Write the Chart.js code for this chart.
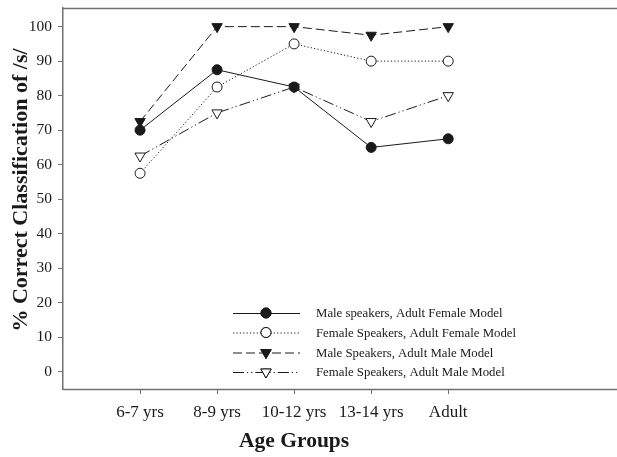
<!DOCTYPE html>
<html>
<head>
<meta charset="utf-8">
<script src="https://cdn.jsdelivr.net/npm/chart.js@4.4.1/dist/chart.umd.min.js"></script>
<style>
  html, body { margin: 0; padding: 0; background: #fff; }
  #wrap { width: 617px; height: 457px; position: relative; }
</style>
</head>
<body>
<div id="wrap"><canvas id="c" width="617" height="457"></canvas></div>
<script>
// Age groups along the x axis
const ageGroups = ['6-7 yrs', '8-9 yrs', '10-12 yrs', '13-14 yrs', 'Adult'];

// % correct classification of /s/ per group
const maleSpkFemaleModel   = [70, 87.5, 82.5, 65, 67.5];
const femaleSpkFemaleModel = [57.5, 82.5, 95, 90, 90];
const maleSpkMaleModel     = [72.5, 100, 100, 97.5, 100];
const femaleSpkMaleModel   = [62.5, 75, 82.5, 72.5, 80];

const seriesNames = [
  'Male speakers, Adult Female Model',
  'Female Speakers, Adult Female Model',
  'Male Speakers, Adult Male Model',
  'Female Speakers, Adult Male Model'
];

const yTicks = [0, 10, 20, 30, 40, 50, 60, 70, 80, 90, 100];

const SERIF = '"Liberation Serif", "Times New Roman", serif';
const INK = '#1a1a1a';
const AXIS = '#707070';

function pts(values) {
  return values.map((v, i) => ({ x: i + 1, y: v }));
}

const styles = [
  { dash: [],               point: 'circle',   rot: 0,   fill: INK,    r: 5 },
  { dash: [1.2, 2.2],       point: 'circle',   rot: 0,   fill: '#fff', r: 5 },
  { dash: [9, 4],           point: 'triangle', rot: 180, fill: INK,    r: 6 },
  { dash: [11, 3, 1.2, 3, 1.2, 3], point: 'triangle', rot: 180, fill: '#fff', r: 6 }
];

const seriesValues = [maleSpkFemaleModel, femaleSpkFemaleModel, maleSpkMaleModel, femaleSpkMaleModel];

const datasets = seriesValues.map((vals, i) => ({
  label: seriesNames[i],
  data: pts(vals),
  borderColor: INK,
  borderWidth: 1,
  borderDash: styles[i].dash,
  pointStyle: styles[i].point,
  pointRotation: styles[i].rot,
  pointRadius: styles[i].r,
  pointBorderWidth: 1,
  pointBorderColor: INK,
  pointBackgroundColor: styles[i].fill,
  tension: 0,
  fill: false
}));

// Frame lines, axis titles and the key in the lower right
const decor = {
  id: 'decor',
  afterDraw(chart) {
    const ctx = chart.ctx;
    const a = chart.chartArea;
    const xs = chart.scales.x;
    ctx.save();
    ctx.strokeStyle = AXIS;
    ctx.lineWidth = 1.5;
    ctx.beginPath();
    ctx.moveTo(a.left, Math.round(a.top) + 0.5);
    ctx.lineTo(chart.width, Math.round(a.top) + 0.5);
    ctx.moveTo(a.left, Math.round(a.bottom) + 0.5);
    ctx.lineTo(chart.width, Math.round(a.bottom) + 0.5);
    ctx.stroke();

    // axis titles
    ctx.fillStyle = INK;
    ctx.font = 'bold 21.5px ' + SERIF;
    ctx.textAlign = 'center';
    ctx.textBaseline = 'middle';
    ctx.fillText('Age Groups', xs.getPixelForValue(3), 441);

    ctx.save();
    ctx.translate(21, 190);
    ctx.rotate(-Math.PI / 2);
    ctx.font = 'bold 22px ' + SERIF;
    ctx.fillText('% Correct Classification of /s/', 0, 0);
    ctx.restore();

    // key
    const x0 = 233, x1 = 300, xm = 266, tx = 316;
    const rows = [313, 332.5, 352.5, 372];
    ctx.font = '12.8px ' + SERIF;
    ctx.textAlign = 'left';
    chart.data.datasets.forEach((ds, i) => {
      const y = rows[i];
      ctx.strokeStyle = INK;
      ctx.lineWidth = 1;
      ctx.setLineDash(ds.borderDash);
      ctx.beginPath();
      ctx.moveTo(x0, y + 0.5);
      ctx.lineTo(x1, y + 0.5);
      ctx.stroke();
      ctx.setLineDash([]);
      Chart.helpers.drawPoint(ctx, {
        pointStyle: ds.pointStyle,
        rotation: ds.pointRotation,
        radius: ds.pointRadius,
        borderWidth: 1
      }, xm, y);
      ctx.fillStyle = ds.pointBackgroundColor;
      ctx.strokeStyle = INK;
      ctx.fill();
      ctx.stroke();
      ctx.fillStyle = INK;
      ctx.fillText(ds.label, tx, y + 1);
    });
    ctx.restore();
  }
};

new Chart(document.getElementById('c'), {
  type: 'line',
  data: { datasets },
  options: {
    responsive: false,
    animation: false,
    layout: { padding: { top: 8, right: 0, left: 0, bottom: 0 } },
    plugins: { legend: { display: false }, tooltip: { enabled: false } },
    scales: {
      x: {
        type: 'linear',
        min: 0,
        max: 7.1,
        afterBuildTicks(axis) { axis.ticks = ageGroups.map((_, i) => ({ value: i + 1 })); },
        afterFit(axis) { axis.height = 68; axis.paddingRight = 0; axis.paddingLeft = 0; },
        ticks: {
          autoSkip: false,
          maxRotation: 0,
          padding: 8,
          color: INK,
          font: { family: SERIF, size: 17 },
          callback: (v) => ageGroups[v - 1] || ''
        },
        grid: { drawOnChartArea: false, drawTicks: true, tickLength: 5, color: AXIS, lineWidth: 1 },
        border: { display: false }
      },
      y: {
        type: 'linear',
        min: -5,
        max: 105.4,
        afterBuildTicks(axis) { axis.ticks = yTicks.map(v => ({ value: v })); },
        afterFit(axis) { axis.width = 63; axis.paddingTop = 0; axis.paddingBottom = 0; },
        ticks: {
          padding: 6,
          color: INK,
          font: { family: SERIF, size: 15.5 }
        },
        grid: { drawOnChartArea: false, drawTicks: true, tickLength: 5, color: AXIS, lineWidth: 1 },
        border: { display: true, color: AXIS, width: 1.5 }
      }
    }
  },
  plugins: [decor]
});
</script>
</body>
</html>
